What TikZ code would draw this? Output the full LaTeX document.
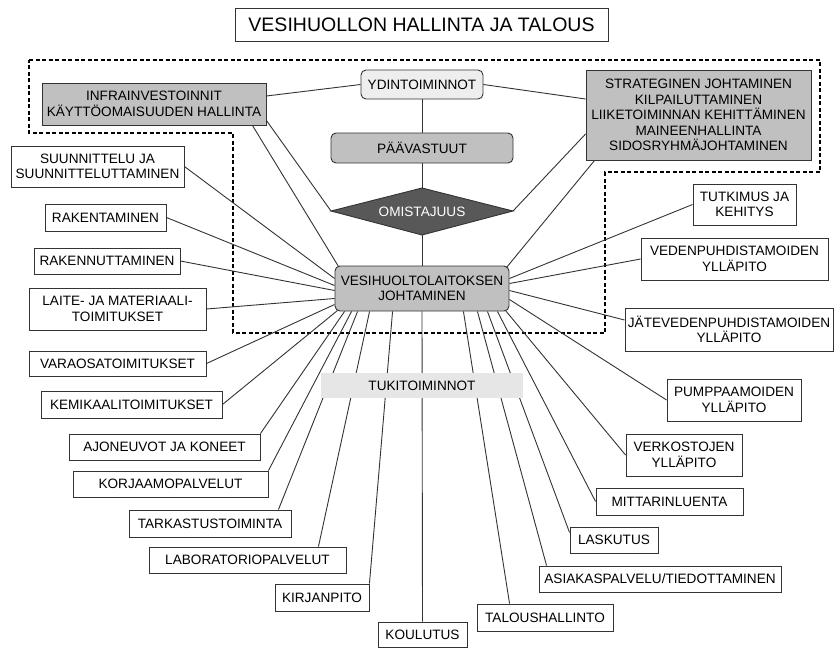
\documentclass[tikz,border=0pt]{standalone}
\usepackage{fontspec}
\setmainfont{Liberation Sans}
\usetikzlibrary{calc}
\definecolor{bord}{HTML}{333333}
\definecolor{midgray}{HTML}{C0C0C0}
\definecolor{lightgray}{HTML}{EEEEEE}
\definecolor{tukigray}{HTML}{E6E6E6}
\definecolor{darkgray}{HTML}{585858}
\newcommand\bx[7]{\node[#6, minimum width={#4-#2}, minimum height={#5-#3}] (#1) at ({(#2+#4)/2},{(#3+#5)/2}) {#7};}
\begin{document}
\begin{tikzpicture}[x=1pt,y=-1pt,
  base/.style={draw=bord, line width=0.9pt, inner sep=0pt, align=center, font=\fontsize{13.6}{15.5}\selectfont, text=black},
  leaf/.style={base, fill=white},
  greybox/.style={base, fill=midgray},
  rnd/.style={rounded corners=5pt},
  conn/.style={draw=bord, line width=0.9pt},
  outline/.style={draw=black, line width=1.5pt, dash pattern=on 4pt off 2.5pt}]
\useasboundingbox (0,0) rectangle (834,648);
% dashed outline
\draw[outline] (29,60) -- (820,60) -- (820,172) -- (605,172) -- (605,333) -- (233,333) -- (233,133) -- (29,133) -- cycle;
% title
\node[draw=bord, line width=0.9pt, minimum width=373, minimum height=33, inner sep=0pt, font=\fontsize{19.5}{22}\selectfont] (title) at (421.5,24.5) {VESIHUOLLON HALLINTA JA TALOUS};
% core nodes
\bx{ydin}{361}{70}{483}{99}{base,rnd,fill=lightgray}{YDINTOIMINNOT}
\bx{paa}{331}{133}{513}{163}{greybox,rnd}{PÄÄVASTUUT}
\coordinate (omisW) at (331,211);
\coordinate (omisE) at (513,211);
\coordinate (omisN) at (422,188);
\coordinate (omisS) at (422,235);
\filldraw[fill=darkgray, draw=bord, line width=0.9pt] (omisW) -- (omisN) -- (omisE) -- (omisS) -- cycle;
\node[font=\fontsize{13.6}{15.5}\selectfont, text=white] (omis) at (422,211.5) {OMISTAJUUS};
\bx{vesi}{335}{266}{509}{311}{greybox,rnd}{VESIHUOLTOLAITOKSEN\\JOHTAMINEN}
\bx{infra}{42}{83}{266}{125}{greybox}{INFRAINVESTOINNIT\\KÄYTTÖOMAISUUDEN HALLINTA}
\bx{strat}{586}{70}{811}{160}{greybox}{STRATEGINEN JOHTAMINEN\\KILPAILUTTAMINEN\\LIIKETOIMINNAN KEHITTÄMINEN\\MAINEENHALLINTA\\SIDOSRYHMÄJOHTAMINEN}
% left leaves
\bx{suun}{11}{146}{184}{187}{leaf}{SUUNNITTELU JA\\SUUNNITTELUTTAMINEN}
\bx{rakt}{45}{204}{166}{231}{leaf}{RAKENTAMINEN}
\bx{rakn}{34}{248}{180}{274}{leaf}{RAKENNUTTAMINEN}
\bx{lait}{29}{288}{206}{330}{leaf}{LAITE- JA MATERIAALI-\\TOIMITUKSET}
\bx{vara}{29}{351}{206}{376}{leaf}{VARAOSATOIMITUKSET}
\bx{kemi}{41}{391}{222}{418}{leaf}{KEMIKAALITOIMITUKSET}
\bx{ajon}{69}{434}{260}{460}{leaf}{AJONEUVOT JA KONEET}
\bx{korj}{73}{471}{268}{497}{leaf}{KORJAAMOPALVELUT}
\bx{tark}{129}{510}{291}{537}{leaf}{TARKASTUSTOIMINTA}
\bx{labo}{149}{547}{346}{573}{leaf}{LABORATORIOPALVELUT}
\bx{kirj}{275}{584}{369}{611}{leaf}{KIRJANPITO}
\bx{koul}{378}{622}{467}{647}{leaf}{KOULUTUS}
% right leaves
\bx{tutk}{693}{184}{796}{225}{leaf}{TUTKIMUS JA\\KEHITYS}
\bx{vede}{641}{238}{828}{280}{leaf}{VEDENPUHDISTAMOIDEN\\YLLÄPITO}
\bx{jate}{625}{308}{833}{351}{leaf}{JÄTEVEDENPUHDISTAMOIDEN\\YLLÄPITO}
\bx{pump}{667}{379}{801}{421}{leaf}{PUMPPAAMOIDEN\\YLLÄPITO}
\bx{verk}{626}{434}{742}{476}{leaf}{VERKOSTOJEN\\YLLÄPITO}
\bx{mitt}{596}{488}{743}{515}{leaf}{MITTARINLUENTA}
\bx{lask}{570}{527}{658}{553}{leaf}{LASKUTUS}
\bx{asia}{539}{566}{781}{592}{leaf}{ASIAKASPALVELU/TIEDOTTAMINEN}
\bx{talo}{477}{604}{613}{631}{leaf}{TALOUSHALLINTO}
% core connectors
\draw[conn] (ydin.west) -- ([yshift=8pt]infra.east);
\draw[conn] (ydin.east) -- ([yshift=16pt]strat.west);
\draw[conn] (ydin.south) -- (paa.north);
\draw[conn] (paa.south) -- (omisN);
\draw[conn] (omisS) -- (vesi.north);
\draw[conn] ([yshift=5pt]infra.south east) -- (omisW);
\draw[conn] ([xshift=-14pt]infra.south east) -- ([xshift=4pt,yshift=-1pt]vesi.north west);
\draw[conn] (omisE) -- ([yshift=-19pt]strat.west);
\draw[conn] ([xshift=-3pt,yshift=-2pt]vesi.north east) -- ([xshift=9pt]strat.south west);
% left connectors
\draw[conn] (suun.east) -- ([yshift=10pt]vesi.west);
\draw[conn] (rakt.east) -- ([yshift=3pt]vesi.west);
\draw[conn] (rakn.east) -- ([yshift=-2pt]vesi.west);
\draw[conn] (lait.east) -- ([yshift=-10pt]vesi.west);
\draw[conn] (vara.east) -- ([yshift=-16pt]vesi.west);
\draw[conn] (kemi.east) -- ([xshift=3pt,yshift=1pt]vesi.south west);
\draw[conn] (ajon.north east) -- ([xshift=10pt]vesi.south west);
\draw[conn] (korj.north east) -- ([xshift=17pt]vesi.south west);
\draw[conn] ([xshift=-13pt]tark.north east) -- ([xshift=23pt]vesi.south west);
\draw[conn] ([xshift=-28pt]labo.north east) -- ([xshift=35pt]vesi.south west);
\draw[conn] (kirj.north east) -- ([xshift=58pt]vesi.south west);
\draw[conn] (vesi.south) -- (koul.north);
% right connectors
\draw[conn] ([xshift=33pt]talo.north west) -- ([xshift=-46pt]vesi.south east);
\draw[conn] ([xshift=8pt]asia.north west) -- ([xshift=-32pt]vesi.south east);
\draw[conn] ([yshift=-6pt]lask.north west) -- ([xshift=-22pt]vesi.south east);
\draw[conn] (mitt.west) -- ([xshift=-12pt]vesi.south east);
\draw[conn] (verk.west) -- ([xshift=-4pt,yshift=1pt]vesi.south east);
\draw[conn] (pump.west) -- ([yshift=-11pt]vesi.east);
\draw[conn] ([yshift=9.5pt]jate.west) -- ([yshift=-2pt]vesi.east);
\draw[conn] (vede.west) -- ([yshift=5pt]vesi.east);
\draw[conn] (tutk.west) -- ([yshift=10pt]vesi.east);
% support label over the lines
\bx{tuki}{321}{373}{523}{398}{base,draw=none,fill=tukigray}{TUKITOIMINNOT}
\end{tikzpicture}
\end{document}
